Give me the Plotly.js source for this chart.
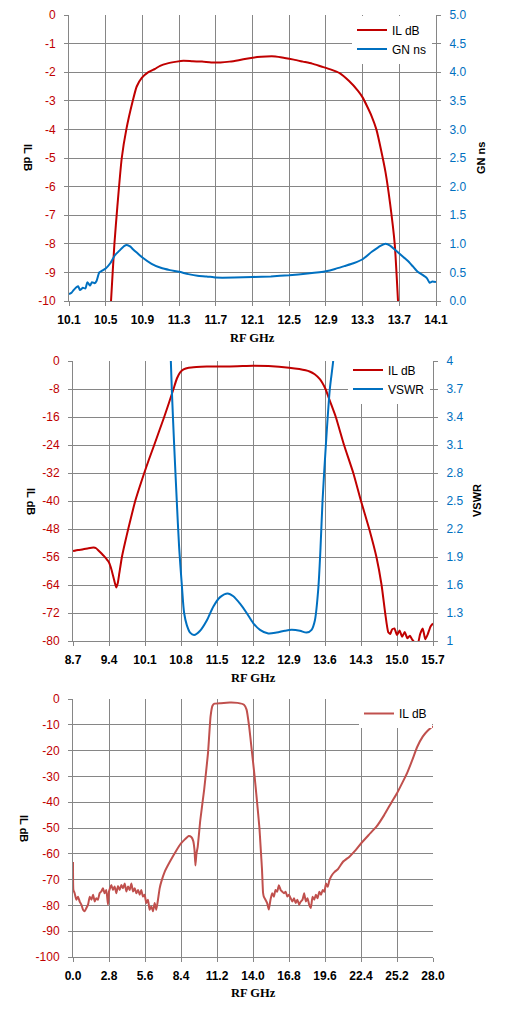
<!DOCTYPE html>
<html><head><meta charset="utf-8">
<script src="https://cdn.plot.ly/plotly-3.0.1.min.js"></script>
<style>body{margin:0;background:#fff}</style>
</head><body>
<div id="chart" style="width:505px;height:1019px"></div>
<script>
// ---------- Chart 1 data ----------
const c1Freq = [10.55,10.558,10.595,10.627,10.675,10.725,10.795,10.838,10.893,10.965,11.038,11.093,11.165,11.275,11.347,11.45,11.55,11.65,11.75,11.85,11.95,12.05,12.15,12.25,12.35,12.45,12.55,12.65,12.75,12.85,12.95,13.05,13.15,13.25,13.3,13.35,13.4,13.45,13.5,13.55,13.6,13.65,13.686,13.695];
const c1IL = [-10.5,-10,-8.0,-6.7,-5.0,-4.0,-3.0,-2.5,-2.2,-2.0,-1.88,-1.78,-1.7,-1.63,-1.6,-1.62,-1.63,-1.66,-1.66,-1.63,-1.58,-1.52,-1.47,-1.45,-1.45,-1.5,-1.56,-1.63,-1.7,-1.8,-1.9,-2.03,-2.3,-2.65,-2.88,-3.2,-3.55,-4.0,-4.7,-5.5,-6.6,-8.0,-10,-10.5];
const c1GNFreq = [10.1,10.13,10.15,10.18,10.2,10.22,10.25,10.28,10.3,10.33,10.35,10.38,10.4,10.43,10.46,10.5,10.55,10.6,10.65,10.7,10.73,10.77,10.8,10.85,10.9,11.0,11.1,11.2,11.3,11.4,11.5,11.6,11.7,11.9,12.1,12.3,12.5,12.7,12.9,13.0,13.1,13.2,13.3,13.4,13.5,13.55,13.6,13.65,13.7,13.75,13.8,13.85,13.9,13.95,14.0,14.03,14.06,14.1];
const c1GN = [0.12,0.15,0.19,0.24,0.26,0.19,0.23,0.22,0.33,0.27,0.33,0.31,0.35,0.5,0.53,0.57,0.66,0.8,0.88,0.96,0.98,0.95,0.9,0.83,0.76,0.65,0.58,0.54,0.51,0.47,0.44,0.43,0.41,0.41,0.42,0.43,0.45,0.48,0.52,0.56,0.61,0.66,0.73,0.86,0.97,1.0,0.97,0.9,0.83,0.76,0.69,0.6,0.51,0.46,0.4,0.32,0.34,0.33];
const c1XTicks = [10.1,10.5,10.9,11.3,11.7,12.1,12.5,12.9,13.3,13.7,14.1];
const c1XLabels = ["10.1","10.5","10.9","11.3","11.7","12.1","12.5","12.9","13.3","13.7","14.1"];
const c1YTicks = [0,-1,-2,-3,-4,-5,-6,-7,-8,-9,-10];
const c1YLabels = ["0","-1","-2","-3","-4","-5","-6","-7","-8","-9","-10"];
const c1Y2Ticks = [0,0.5,1,1.5,2,2.5,3,3.5,4,4.5,5];
const c1Y2Labels = ["0.0","0.5","1.0","1.5","2.0","2.5","3.0","3.5","4.0","4.5","5.0"];

// ---------- Chart 2 data ----------
const c2Freq = [8.7,8.8,8.9,9.0,9.1,9.15,9.2,9.3,9.4,9.45,9.5,9.54,9.57,9.6,9.651,9.71,9.774,9.91,9.995,10.085,10.18,10.279,10.376,10.473,10.565,10.654,10.72,10.78,10.85,10.95,11.1,11.3,11.6,11.9,12.2,12.5,12.9,13.1,13.3,13.4,13.5,13.55,13.61,13.7,13.81,13.97,14.15,14.3,14.46,14.6,14.7,14.77,14.83,14.87,14.9,14.95,15.0,15.05,15.1,15.15,15.2,15.25,15.3,15.35,15.4,15.45,15.5,15.55,15.6,15.65,15.7];
const c2IL = [-54.3,-54.0,-53.8,-53.5,-53.3,-53.5,-54.2,-55.7,-57.6,-59.7,-62.6,-64.7,-63.5,-60.7,-56,-52,-48,-40,-36,-32,-28,-24,-20,-16,-12,-8,-5,-3.3,-2.4,-1.9,-1.7,-1.6,-1.6,-1.5,-1.35,-1.45,-1.9,-2.3,-3.0,-3.8,-5.2,-6.3,-8,-11.6,-16,-24,-32,-40,-48,-56,-64,-72,-77.5,-78,-76.8,-76.4,-78.3,-77,-78.8,-77.4,-79.2,-78.5,-79.7,-80.5,-81,-78,-76.4,-79.5,-78,-75.9,-75];
const c2VFreq = [10.59,10.621,10.667,10.718,10.764,10.816,10.861,10.913,10.977,11.055,11.171,11.301,11.430,11.560,11.708,11.818,11.948,12.077,12.207,12.336,12.498,12.659,12.821,12.950,13.112,13.242,13.339,13.403,13.468,13.513,13.552,13.617,13.694,13.759,13.78];
const c2VSWR = [4.2,3.7,3.1,2.5,2.0,1.6,1.3,1.17,1.09,1.065,1.11,1.22,1.37,1.47,1.51,1.48,1.40,1.30,1.19,1.12,1.08,1.09,1.11,1.12,1.11,1.09,1.12,1.22,1.55,2.0,2.5,3.1,3.7,4.0,4.2];
const c2XTicks = [8.7,9.4,10.1,10.8,11.5,12.2,12.9,13.6,14.3,15.0,15.7];
const c2XLabels = ["8.7","9.4","10.1","10.8","11.5","12.2","12.9","13.6","14.3","15.0","15.7"];
const c2YTicks = [0,-8,-16,-24,-32,-40,-48,-56,-64,-72,-80];
const c2YLabels = ["0","-8","-16","-24","-32","-40","-48","-56","-64","-72","-80"];
const c2Y2Ticks = [1,1.3,1.6,1.9,2.2,2.5,2.8,3.1,3.4,3.7,4];
const c2Y2Labels = ["1","1.3","1.6","1.9","2.2","2.5","2.8","3.1","3.4","3.7","4"];

// ---------- Chart 3 data ----------
const c3Freq = [0.0,0.03,0.13,0.26,0.39,0.52,0.65,0.78,0.91,1.04,1.17,1.30,1.43,1.56,1.69,1.81,1.94,2.07,2.20,2.33,2.46,2.59,2.72,2.80,2.98,3.11,3.24,3.37,3.50,3.63,3.76,3.89,4.02,4.15,4.28,4.41,4.54,4.67,4.80,4.93,5.06,5.19,5.31,5.44,5.57,5.70,5.83,5.96,6.09,6.22,6.35,6.48,6.61,6.74,6.87,7.13,7.52,8.04,8.4,8.7,9.0,9.2,9.35,9.45,9.52,9.6,9.7,9.9,10.2,10.5,10.7,10.85,11.0,11.5,12.2,12.8,13.3,13.5,13.7,13.9,14.1,14.3,14.5,14.6,14.7,14.78,14.84,14.97,15.10,15.23,15.36,15.49,15.62,15.75,15.88,16.01,16.15,16.28,16.41,16.54,16.67,16.80,16.93,17.06,17.19,17.32,17.45,17.59,17.72,17.85,17.98,18.11,18.24,18.37,18.50,18.63,18.76,18.89,19.02,19.16,19.29,19.42,19.55,19.68,19.81,19.94,20.12,20.33,20.6,21.0,21.5,22.0,22.4,23.0,23.6,24.2,24.8,25.2,25.6,26.0,26.4,26.75,27.2,27.6,28.0];
const c3IL = [-63.2,-74,-75.3,-77.8,-76.6,-78.5,-79.7,-81.7,-82.3,-81,-79.7,-76.6,-77.8,-75.9,-78.5,-77.2,-77.8,-75.3,-74.6,-73.4,-75.3,-74,-79.7,-74.6,-72.1,-74,-72.7,-75.3,-72.5,-74,-72.1,-73.4,-71.5,-74.6,-72.7,-74,-71.5,-74.6,-73.4,-75.3,-74,-75.9,-74,-76.6,-75.9,-79.1,-77.8,-81.7,-80.4,-82.3,-79.1,-81.7,-77.8,-73.4,-70.8,-67,-63.2,-58.7,-56,-54.4,-53.1,-53.5,-55,-58.5,-64.5,-60,-57.3,-47,-35.2,-21,-6.7,-2.6,-1.8,-1.6,-1.4,-1.5,-2.2,-4.1,-10.6,-19.7,-28.8,-39.1,-50,-58,-66,-75,-76.6,-77.8,-79.1,-81.6,-77.8,-75.3,-76.6,-74,-74.7,-72.2,-74,-74.7,-75.3,-74.7,-76.6,-75.9,-77.2,-78.5,-77.2,-79.1,-77.8,-79.7,-78.5,-77.8,-75.3,-78.5,-77.2,-79.7,-81,-76.6,-77.8,-75.9,-77.2,-74.7,-75.9,-74,-74.7,-71.5,-72.8,-70.3,-68.4,-67.1,-66,-63.1,-61.1,-58.5,-56,-52.7,-49.5,-45,-39.8,-36.5,-32.6,-28.5,-23.5,-18.8,-14.6,-12.2,-10.6];
const c3XTicks = [0,2.8,5.6,8.4,11.2,14.0,16.8,19.6,22.4,25.2,28.0];
const c3XLabels = ["0.0","2.8","5.6","8.4","11.2","14.0","16.8","19.6","22.4","25.2","28.0"];
const c3YTicks = [0,-10,-20,-30,-40,-50,-60,-70,-80,-90,-100];
const c3YLabels = ["0","-10","-20","-30","-40","-50","-60","-70","-80","-90","-100"];

// ---------- styling ----------
const W = 505, H = 1019;
const RED = '#c00000', BLUE = '#0070c0', RED3 = '#c0504d', GRID = '#868686';
const SANS = 'Liberation Sans, Arial, sans-serif';
const SERIF = 'Liberation Serif, Times New Roman, serif';
const px = v => v / W, py = v => 1 - v / H;

function xAxis(range, tv, tt, dom, anchor) {
  return {range: range, tickvals: tv, ticktext: tt, domain: [px(dom[0]), px(dom[1])], anchor: anchor,
    showgrid: true, gridcolor: GRID, gridwidth: 1,
    showline: true, linecolor: GRID, linewidth: 1, ticks: 'outside', ticklen: 4, tickcolor: GRID,
    zeroline: false, tickfont: {family: SANS, size: 12, color: '#000', weight: 'bold'}, ticklabelstandoff: 4, fixedrange: true};
}
function yAxis(range, tv, tt, color, grid, dom, anchor) {
  const a = {range: range, tickvals: tv, ticktext: tt, anchor: anchor, showgrid: grid, gridcolor: GRID, gridwidth: 1,
    showline: true, linecolor: GRID, linewidth: 1, ticks: 'outside', ticklen: 4, tickcolor: GRID,
    zeroline: false, tickfont: {family: SANS, size: 12, color: color}, ticklabelstandoff: 6, fixedrange: true};
  if (dom) a.domain = [py(dom[1]), py(dom[0])];
  return a;
}
function ann(text, x, y, angle, font) {
  return {text: text, xref: 'paper', yref: 'paper', x: px(x), y: py(y), xanchor: 'center', yanchor: 'middle',
    showarrow: false, textangle: angle, font: font};
}
const fX = {family: SERIF, size: 12.5, color: '#000', weight: 'bold'};
const fY = {family: SANS, size: 11, color: '#000', weight: 'bold'};
function legend(xRight, yTop) {
  return {x: px(xRight), y: py(yTop), xanchor: 'right', yanchor: 'top', bgcolor: '#fff', borderwidth: 0,
    font: {family: SANS, size: 12, color: '#000'}, tracegroupgap: 0};
}

const traces = [
  {x: c1Freq, y: c1IL, name: 'IL dB', xaxis: 'x', yaxis: 'y', legend: 'legend', type: 'scatter', mode: 'lines',
   line: {color: RED, width: 2, shape: 'spline', smoothing: 0.6}},
  {x: c1GNFreq, y: c1GN, name: 'GN ns', xaxis: 'x', yaxis: 'y2', legend: 'legend', type: 'scatter', mode: 'lines',
   line: {color: BLUE, width: 2, shape: 'spline', smoothing: 0.5}},
  {x: c2Freq, y: c2IL, name: 'IL dB', xaxis: 'x2', yaxis: 'y3', legend: 'legend2', type: 'scatter', mode: 'lines',
   line: {color: RED, width: 2, shape: 'spline', smoothing: 0.5}},
  {x: c2VFreq, y: c2VSWR, name: 'VSWR', xaxis: 'x2', yaxis: 'y4', legend: 'legend2', type: 'scatter', mode: 'lines',
   line: {color: BLUE, width: 2, shape: 'spline', smoothing: 0.8}},
  {x: c3Freq, y: c3IL, name: 'IL dB', xaxis: 'x3', yaxis: 'y5', legend: 'legend3', type: 'scatter', mode: 'lines',
   line: {color: RED3, width: 2, shape: 'spline', smoothing: 0.4}}
];

const layout = {
  width: W, height: H, margin: {l: 0, r: 0, t: 0, b: 0}, paper_bgcolor: '#fff', plot_bgcolor: '#fff',
  showlegend: true,
  xaxis: xAxis([10.1, 14.1], c1XTicks, c1XLabels, [69, 436], 'y'),
  yaxis: yAxis([-10, 0], c1YTicks, c1YLabels, RED, true, [15, 301], 'x'),
  yaxis2: Object.assign(yAxis([0, 5], c1Y2Ticks, c1Y2Labels, BLUE, false, null, 'x'), {overlaying: 'y', side: 'right'}),
  xaxis2: xAxis([8.7, 15.7], c2XTicks, c2XLabels, [73, 433], 'y3'),
  yaxis3: yAxis([-80, 0], c2YTicks, c2YLabels, RED, true, [361, 641], 'x2'),
  yaxis4: Object.assign(yAxis([1, 4], c2Y2Ticks, c2Y2Labels, BLUE, false, null, 'x2'), {overlaying: 'y3', side: 'right'}),
  xaxis3: xAxis([0, 28], c3XTicks, c3XLabels, [73, 433], 'y5'),
  yaxis5: yAxis([-100, 0], c3YTicks, c3YLabels, RED, true, [699, 957], 'x3'),
  legend: legend(432, 15.5),
  legend2: legend(430, 355.5),
  legend3: legend(432, 699),
  annotations: [
    ann('RF GHz', 252.5, 338, 0, fX),
    ann('IL dB', 28, 157, 90, fY),
    ann('GN ns', 481, 158, -90, fY),
    ann('RF GHz', 253, 678, 0, fX),
    ann('IL dB', 31, 501, 90, fY),
    ann('VSWR', 477, 501, -90, fY),
    ann('RF GHz', 253, 993, 0, fX),
    ann('IL dB', 24, 828, 90, fY)
  ]
};
Plotly.newPlot('chart', traces, layout, {displayModeBar: false, staticPlot: true});
</script></body></html>
